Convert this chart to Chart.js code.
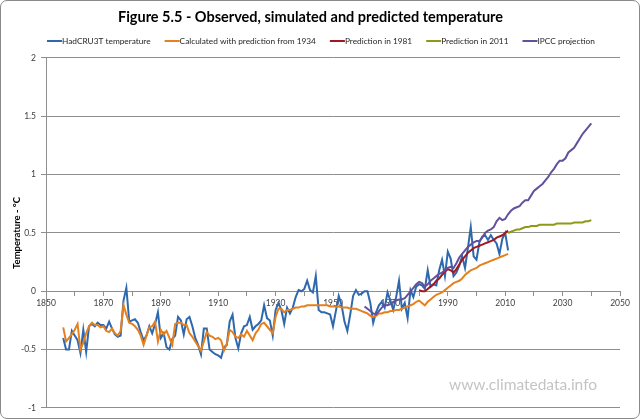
<!DOCTYPE html>
<html>
<head>
<meta charset="utf-8">
<script src="https://cdn.jsdelivr.net/npm/chart.js@4.4.1/dist/chart.umd.min.js"></script>
<style>
html, body { margin: 0; padding: 0; background: #fff; }
#wrap { position: relative; width: 640px; height: 419px; box-sizing: border-box; border: 1px solid #8a8a8a; border-radius: 7px; overflow: hidden; }
canvas { display: block; }
</style>
</head>
<body>
<div id="wrap"><canvas id="tempChart" width="638" height="417"></canvas></div>
<script>
// Series labels (legend order)
var seriesNames = ['HadCRU3T temperature', 'Calculated with prediction from 1934', 'Prediction in 1981', 'Prediction in 2011', 'IPCC projection'];

// HadCRU3T observed, 1856 - 2011
var hadStart = 1856;
var hadValues = [
  -0.40, -0.50, -0.50, -0.34, -0.38, -0.42, -0.53, -0.33, -0.52, -0.30,
  -0.28, -0.30, -0.27, -0.29, -0.29, -0.32, -0.26, -0.32, -0.37, -0.39,
  -0.38, -0.08,  0.03, -0.26, -0.25, -0.24, -0.27, -0.35, -0.42, -0.38,
  -0.30, -0.36, -0.28, -0.18, -0.40, -0.36, -0.48, -0.50, -0.41, -0.38,
  -0.22, -0.25, -0.37, -0.24, -0.22, -0.30, -0.40, -0.46, -0.54, -0.32,
  -0.32, -0.50, -0.52, -0.54, -0.55, -0.57, -0.48, -0.46, -0.26, -0.20,
  -0.40, -0.49, -0.36, -0.30, -0.29, -0.22, -0.33, -0.30, -0.28, -0.25,
  -0.12, -0.23, -0.25, -0.38, -0.16, -0.10, -0.16, -0.28, -0.14, -0.19,
  -0.14, -0.05,  0.01,  0.00,  0.02,  0.09,  0.01, -0.01,  0.13, -0.16,
  -0.18, -0.18, -0.19, -0.20, -0.30, -0.17, -0.04, -0.12, -0.26, -0.34,
  -0.20, -0.04,  0.01, -0.03, -0.02,  0.00,  0.00, -0.10, -0.27, -0.18,
  -0.12, -0.09, -0.14, -0.01, -0.08, -0.16, -0.05,  0.09, -0.15, -0.10,
  -0.23,  0.01, -0.05,  0.04,  0.06,  0.05,  0.02,  0.18,  0.04,  0.06,
   0.05,  0.18,  0.27,  0.13,  0.34,  0.28,  0.13,  0.16,  0.22,  0.30,
   0.20,  0.37,  0.55,  0.30,  0.27,  0.42,  0.47,  0.48,  0.44,  0.48,
   0.44,  0.41,  0.32,  0.45,  0.50,  0.35
];

// Calculated with prediction from 1934, 1856 - 2011
var calcStart = 1856;
var calcValues = [
  -0.31, -0.43, -0.40, -0.37, -0.33, -0.28, -0.50, -0.44, -0.36, -0.30,
  -0.27, -0.29, -0.29, -0.31, -0.30, -0.34, -0.35, -0.32, -0.36, -0.38,
  -0.34, -0.12, -0.20, -0.27, -0.28, -0.30, -0.33, -0.38, -0.46, -0.38,
  -0.31, -0.30, -0.26, -0.43, -0.33, -0.37, -0.34, -0.40, -0.46, -0.28,
  -0.27, -0.27, -0.29, -0.29, -0.36, -0.39, -0.43, -0.47, -0.51, -0.43,
  -0.35, -0.38, -0.39, -0.41, -0.40, -0.42, -0.51, -0.45, -0.33, -0.35,
  -0.39, -0.40, -0.37, -0.39, -0.34, -0.38, -0.42, -0.36, -0.33, -0.28,
  -0.27, -0.30, -0.33, -0.36, -0.22, -0.15, -0.15, -0.18, -0.16, -0.16,
  -0.15, -0.14, -0.14, -0.13, -0.13, -0.12, -0.12, -0.12, -0.12, -0.12,
  -0.12, -0.12, -0.12, -0.13, -0.13, -0.13, -0.13, -0.14, -0.14, -0.14,
  -0.15, -0.15, -0.15, -0.16, -0.17, -0.18, -0.19, -0.21, -0.22, -0.21,
  -0.19, -0.19, -0.18, -0.18, -0.17, -0.17, -0.16, -0.16, -0.15, -0.14,
  -0.13, -0.12, -0.11, -0.09, -0.08, -0.10, -0.12, -0.09, -0.07, -0.05,
  -0.03, -0.02, -0.01,  0.01,  0.03,  0.05,  0.07,  0.08,  0.09,  0.11,
   0.14,  0.16,  0.18,  0.19,  0.20,  0.22,  0.23,  0.24,  0.25,  0.26,
   0.27,  0.28,  0.29,  0.30,  0.31,  0.32
];

// Prediction made in 1981, 1980 - 2011
var pred1981Start = 1980;
var pred1981Values = [
   0.01,  0.00,  0.00,  0.02,  0.04,  0.06,  0.09,  0.11,  0.14,  0.17,
   0.19,  0.18,  0.16,  0.19,  0.23,  0.27,  0.30,  0.33,  0.35,  0.37,
   0.38,  0.39,  0.40,  0.41,  0.42,  0.43,  0.44,  0.46,  0.47,  0.48,
   0.50,  0.52
];

// Prediction made in 2011, 2011 - 2040
var pred2011Start = 2011;
var pred2011Values = [
   0.50,  0.51,  0.52,  0.53,  0.53,  0.54,  0.55,  0.55,  0.56,  0.56,
   0.56,  0.57,  0.57,  0.57,  0.57,  0.57,  0.57,  0.58,  0.58,  0.58,
   0.58,  0.58,  0.58,  0.59,  0.59,  0.59,  0.59,  0.60,  0.60,  0.61
];

// IPCC projection, 1961 - 2040
var ipccStart = 1961;
var ipccValues = [
  -0.13, -0.15, -0.17, -0.19, -0.20, -0.17, -0.14, -0.12, -0.12, -0.11,
  -0.09, -0.08, -0.07, -0.07, -0.06, -0.03,  0.00,  0.03,  0.06,  0.08,
   0.07,  0.04,  0.06,  0.09,  0.11,  0.13,  0.15,  0.16,  0.18,  0.20,
   0.21,  0.20,  0.24,  0.29,  0.32,  0.35,  0.38,  0.40,  0.42,  0.43,
   0.43,  0.46,  0.50,  0.52,  0.53,  0.55,  0.60,  0.63,  0.61,  0.62,
   0.66,  0.69,  0.71,  0.72,  0.73,  0.76,  0.78,  0.78,  0.82,  0.86,
   0.88,  0.90,  0.92,  0.95,  0.98,  1.02,  1.05,  1.09,  1.12,  1.12,
   1.14,  1.19,  1.21,  1.23,  1.27,  1.31,  1.35,  1.38,  1.41,  1.44
];

// Axis ranges / ticks
var yearMin = 1850, yearMax = 2050, yearStep = 10, yearLabelStep = 20;
var tempMin = -1, tempMax = 2, tempStep = 0.5;

var seriesColors = ['#2e68ad', '#e5801f', '#a3171f', '#8e9a17', '#63519b'];
var gridGrey = '#8e8e8e';

// Turn a start year plus yearly values into {x, y} points
function toPoints(startYear, values) {
    return values.map(function(v, i) {
        return { x: startYear + i, y: v };
    });
}

function makeDataset(idx, points) {
    return {
        label: seriesNames[idx],
        data: points,
        borderColor: seriesColors[idx],
        backgroundColor: seriesColors[idx],
        borderWidth: 2,
        pointRadius: 0,
        tension: 0,
        fill: false,
        order: 5 - idx
    };
}

// Legend and watermark drawn like the spreadsheet original
var sheetExtras = {
    id: 'sheetExtras',
    afterDraw: function(chart) {
        var ctx = chart.ctx;
        ctx.save();
        ctx.font = '8.3px Lato';
        ctx.textBaseline = 'middle';
        var x = 46, y = 40;
        chart.data.datasets.forEach(function(ds) {
            ctx.strokeStyle = ds.borderColor;
            ctx.lineWidth = 2;
            ctx.beginPath();
            ctx.moveTo(x, y);
            ctx.lineTo(x + 15, y);
            ctx.stroke();
            ctx.fillStyle = '#262626';
            ctx.fillText(ds.label, x + 15, y);
            x += 15 + ctx.measureText(ds.label).width + 14;
        });
        ctx.fillStyle = '#c4c4c4';
        ctx.font = '15.5px Lato';
        ctx.fillText('www.climatedata.info', 448, 384);
        ctx.restore();
    }
};

var ctx = document.getElementById('tempChart').getContext('2d');
var tempChart = new Chart(ctx, {
    type: 'line',
    data: {
        datasets: [
            makeDataset(0, toPoints(hadStart, hadValues)),
            makeDataset(1, toPoints(calcStart, calcValues)),
            makeDataset(2, toPoints(pred1981Start, pred1981Values)),
            makeDataset(3, toPoints(pred2011Start, pred2011Values)),
            makeDataset(4, toPoints(ipccStart, ipccValues))
        ]
    },
    options: {
        responsive: false,
        animation: false,
        devicePixelRatio: 1,
        layout: { padding: { left: 0, right: 19, top: 0, bottom: 10 } },
        plugins: {
            legend: { display: false },
            tooltip: { enabled: false },
            title: {
                display: true,
                text: 'Figure 5.5 - Observed, simulated and predicted temperature',
                color: '#000',
                font: { family: 'Lato', size: 14.5, weight: 'bold' },
                padding: { top: 7.3, bottom: 32.3 }
            }
        },
        scales: {
            x: {
                type: 'linear',
                min: yearMin,
                max: yearMax,
                position: { y: 0 },
                grid: { drawOnChartArea: false, color: gridGrey, tickLength: 4 },
                border: { color: gridGrey },
                ticks: {
                    stepSize: yearStep,
                    autoSkip: false,
                    maxRotation: 0,
                    padding: 3,
                    color: '#404040',
                    font: { family: 'Lato', size: 8.5 },
                    callback: function(v) { return (v - yearMin) % yearLabelStep === 0 ? String(v) : ''; }
                }
            },
            y: {
                min: tempMin,
                max: tempMax,
                grid: { color: gridGrey, tickLength: 5 },
                border: { color: gridGrey },
                ticks: {
                    stepSize: tempStep,
                    padding: 5,
                    color: '#404040',
                    font: { family: 'Lato', size: 8.5 },
                    callback: function(v) { return String(v); }
                },
                title: {
                    display: true,
                    text: 'Temperature - °C',
                    color: '#000',
                    font: { family: 'Lato', size: 9.5, weight: 'bold' },
                    padding: { top: 10, bottom: 0 }
                },
                afterFit: function(scale) { scale.width = 45; }
            }
        }
    },
    plugins: [sheetExtras]
});
</script>
</body>
</html>
